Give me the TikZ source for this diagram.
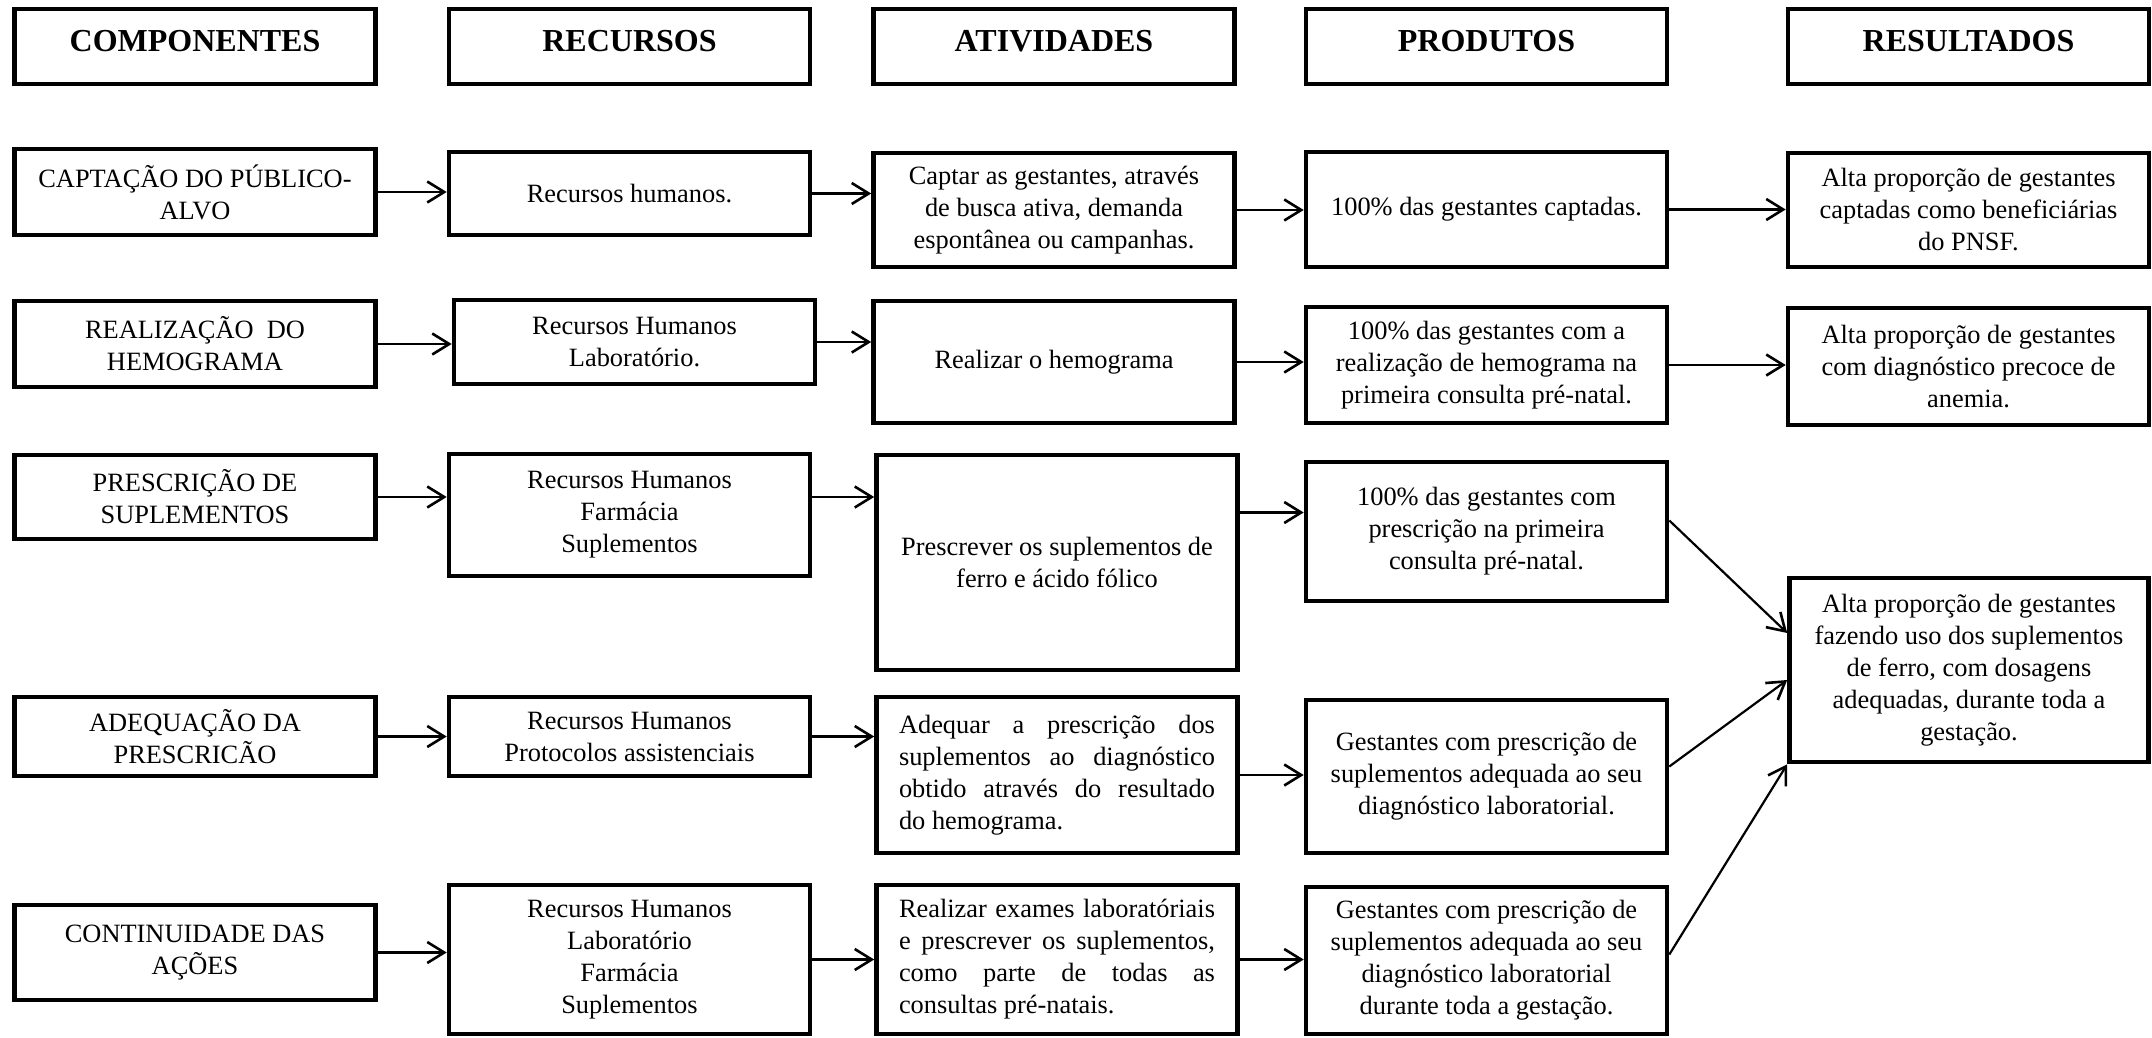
\documentclass[tikz,border=0pt]{standalone}
\usepackage{fontspec}
\setmainfont{Liberation Serif}
\usetikzlibrary{arrows.meta}

\begin{document}
\begin{tikzpicture}[x=0.5pt, y=-0.5pt,
    box/.style={draw, line width=2.3pt, align=center, inner sep=3pt,
        minimum width=180.5pt, font=\fontsize{13.2}{16}\selectfont},
    head/.style={box, minimum height=37.5pt, text depth=6pt,
        font=\fontsize{16}{19}\selectfont\bfseries},
    just/.style={box, align=justify, text width=158pt},
    arr/.style={-{Straight Barb[length=8.5pt, width=10.5pt, line width=1.3pt]}, line width=1.1pt}]
    \useasboundingbox (0,0) rectangle (2152,1038);

    % Header row
    \node[head] (hcomp) at (195,46.5) {COMPONENTES};
    \node[head] (hrec) at (629.5,46.5) {RECURSOS};
    \node[head] (hativ) at (1054,46.5) {ATIVIDADES};
    \node[head] (hprod) at (1486.5,46.5) {PRODUTOS};
    \node[head] (hres) at (1968.5,46.5) {RESULTADOS};

    % Captacao
    \node[box, minimum height=43pt] (comp1) at (195,192) {CAPTAÇÃO DO PÚBLICO-\\ALVO};
    \node[box, minimum height=41.5pt] (rec1) at (629.5,193.5) {Recursos humanos.};
    \node[box, minimum height=57pt] (ativ1) at (1054,210) {Captar as gestantes, através\\de busca ativa, demanda\\espontânea ou campanhas.};
    \node[box, minimum height=57.5pt] (prod1) at (1486.5,209.5) {100\% das gestantes captadas.};
    \node[box, minimum height=57pt] (res1) at (1968.5,210) {Alta proporção de gestantes\\captadas como beneficiárias\\do PNSF.};

    % Hemograma
    \node[box, minimum height=43pt] (comp2) at (195,344) {REALIZAÇÃO~ DO\\HEMOGRAMA};
    \node[box, minimum height=42pt] (rec2) at (634.5,342) {Recursos Humanos\\Laboratório.};
    \node[box, minimum height=61pt] (ativ2) at (1054,362) {Realizar o hemograma};
    \node[box, minimum height=58pt] (prod2) at (1486.5,365) {100\% das gestantes com a\\realização de hemograma na\\primeira consulta pré-natal.};
    \node[box, minimum height=58.5pt] (res2) at (1968.5,366.5) {Alta proporção de gestantes\\com diagnóstico precoce de\\anemia.};

    % Prescricao
    \node[box, minimum height=42pt] (comp3) at (195,497) {PRESCRIÇÃO DE\\SUPLEMENTOS};
    \node[box, minimum height=61pt] (rec3) at (629.5,515) {Recursos Humanos\\Farmácia\\Suplementos};
    \node[box, minimum height=107.5pt] (ativ3) at (1057,562.5) {Prescrever os suplementos de\\ferro e ácido fólico};
    \node[box, minimum height=69.5pt] (prod3) at (1486.5,531.5) {100\% das gestantes com\\prescrição na primeira\\consulta pré-natal.};
    \node[box, minimum height=92pt, minimum width=179.5pt] (res3) at (1969,670) {Alta proporção de gestantes\\fazendo uso dos suplementos\\de ferro, com dosagens\\adequadas, durante toda a\\gestação.};

    % Adequacao
    \node[box, minimum height=39.5pt] (comp4) at (195,736.5) {ADEQUAÇÃO DA\\PRESCRICÃO};
    \node[box, minimum height=39.5pt] (rec4) at (629.5,736.5) {Recursos Humanos\\Protocolos assistenciais};
    \node[just, minimum height=78pt] (ativ4) at (1057,775) {Adequar a prescrição dos\linebreak suplementos ao diagnóstico\linebreak obtido através do resultado\linebreak do hemograma.};
    \node[box, minimum height=76.5pt] (prod4) at (1486.5,776.5) {Gestantes com prescrição de\\suplementos adequada ao seu\\diagnóstico laboratorial.};

    % Continuidade
    \node[box, minimum height=47.5pt] (comp5) at (195,952.5) {CONTINUIDADE DAS\\AÇÕES};
    \node[box, minimum height=74.5pt] (rec5) at (629.5,959.5) {Recursos Humanos\\Laboratório\\Farmácia\\Suplementos};
    \node[just, minimum height=74.5pt] (ativ5) at (1057,959.5) {Realizar exames laboratóriais\linebreak e prescrever os suplementos,\linebreak como parte de todas as\linebreak consultas pré-natais.};
    \node[box, minimum height=73.5pt] (prod5) at (1486.5,960.5) {Gestantes com prescrição de\\suplementos adequada ao seu\\diagnóstico laboratorial\\durante toda a gestação.};

    % Arrows
    \draw[arr] (comp1.east) -- (comp1.east -| rec1.west);
    \draw[arr] (rec1.east) -- (rec1.east -| ativ1.west);
    \draw[arr] (ativ1.east) -- (ativ1.east -| prod1.west);
    \draw[arr] (prod1.east) -- (prod1.east -| res1.west);

    \draw[arr] (comp2.east) -- (comp2.east -| rec2.west);
    \draw[arr] (rec2.east) -- (rec2.east -| ativ2.west);
    \draw[arr] (ativ2.east) -- (ativ2.east -| prod2.west);
    \draw[arr] (prod2.east) -- (prod2.east -| res2.west);

    \coordinate (a3) at ([yshift=25pt]ativ3.east);
    \draw[arr] (comp3.east) -- (comp3.east -| rec3.west);
    \draw[arr] (comp3.east -| rec3.east) -- (comp3.east -| ativ3.west);
    \draw[arr] (a3) -- (a3 -| prod3.west);

    \draw[arr] (comp4.east) -- (comp4.east -| rec4.west);
    \draw[arr] (rec4.east) -- (rec4.east -| ativ4.west);
    \draw[arr] (ativ4.east) -- (ativ4.east -| prod4.west);

    \draw[arr] (comp5.east) -- (comp5.east -| rec5.west);
    \draw[arr] (rec5.east) -- (rec5.east -| ativ5.west);
    \draw[arr] (ativ5.east) -- (ativ5.east -| prod5.west);

    % Into the last result
    \draw[arr] ([yshift=5.5pt]prod3.east) -- ([yshift=18.5pt]res3.west);
    \draw[arr] ([yshift=5pt]prod4.east) -- ([yshift=-5pt]res3.west);
    \draw[arr] ([yshift=3pt]prod5.east) -- (res3.south west);
\end{tikzpicture}
\end{document}
